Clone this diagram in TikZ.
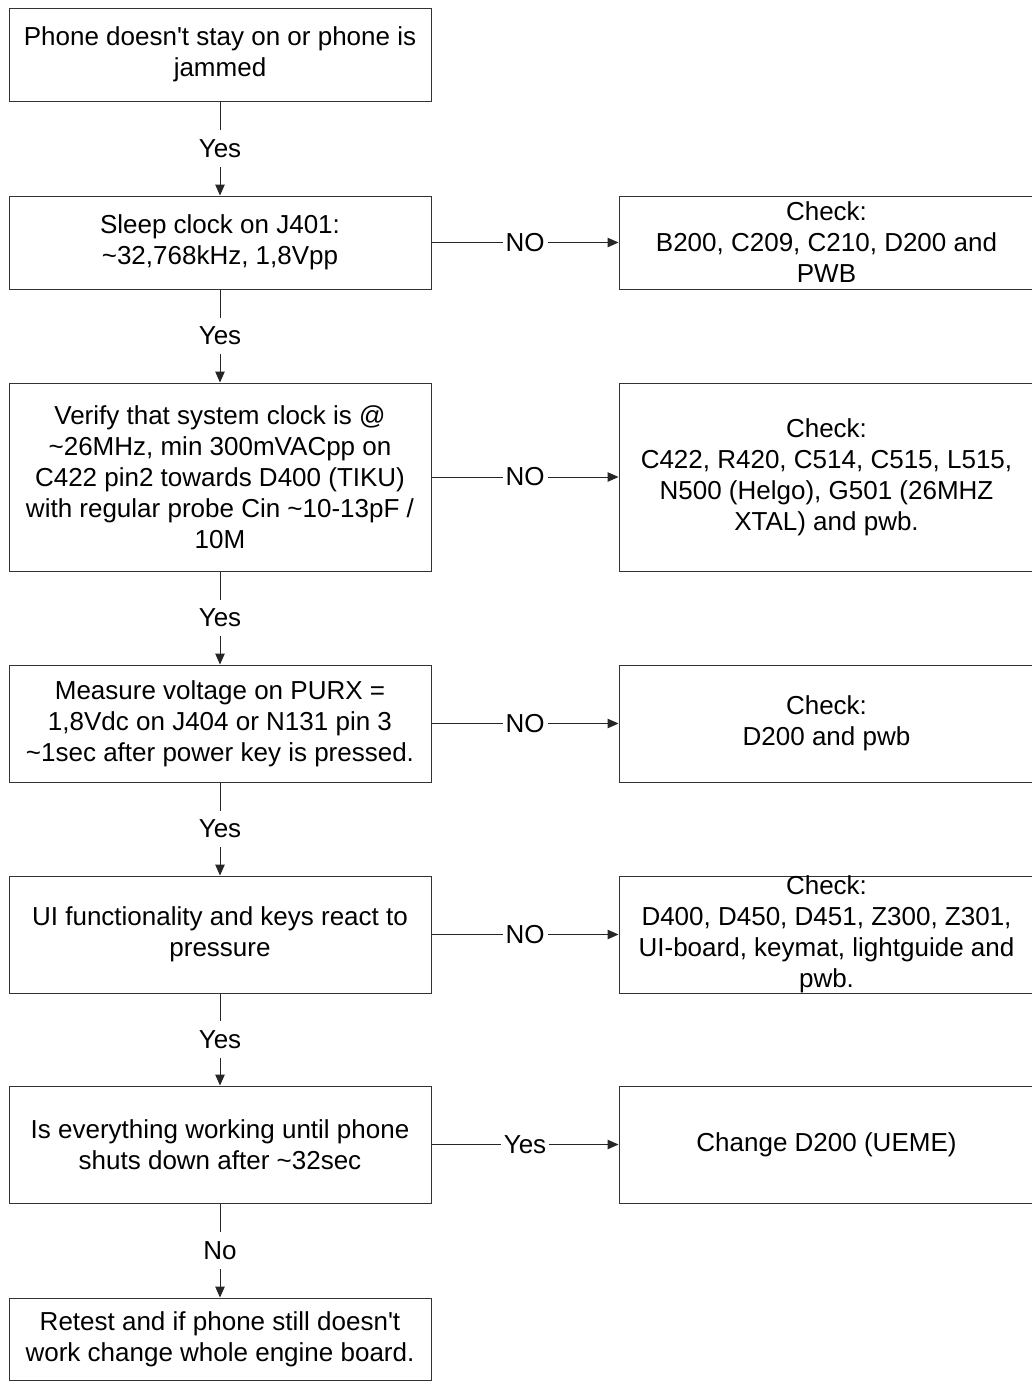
\documentclass[tikz,border=0pt]{standalone}
\usepackage{fontspec}
\setmainfont{Liberation Sans}
\usetikzlibrary{arrows.meta}
\newcommand{\apos}{\textquotesingle}
\begin{document}
\begin{tikzpicture}[x=1pt,y=-1pt,
  box/.style={draw=black!80, line width=1pt, rectangle, inner sep=0pt},
  lbox/.style={box, minimum width=422pt},
  rbox/.style={box, minimum width=415pt},
  txt/.style={align=center, inner sep=0pt, font=\fontsize{26}{31}\selectfont},
  flow/.style={draw=black!85, line width=1pt, -{Triangle[length=11pt,width=9.5pt]}},
  lbl/.style={fill=white, inner xsep=3pt, inner ysep=9pt, font=\fontsize{26}{31}\selectfont}
]
\useasboundingbox (0,0) rectangle (1032,1387);

% main column
\node[lbox, minimum height=93pt]  (b1) at (220,54.5) {};
\node[lbox, minimum height=93pt]  (b2) at (220,242.5) {};
\node[lbox, minimum height=188pt] (b3) at (220,477) {};
\node[lbox, minimum height=117pt] (b4) at (220,723.5) {};
\node[lbox, minimum height=117pt] (b5) at (220,934.5) {};
\node[lbox, minimum height=117pt] (b6) at (220,1144.5) {};
\node[lbox, minimum height=82pt]  (b7) at (220,1339) {};

\node[txt] at (b1) {Phone doesn\apos t stay on or phone is\\jammed};
\node[txt] at (b2) {Sleep clock on J401:\\\textasciitilde32,768kHz, 1,8Vpp};
\node[txt] at (b3) {Verify that system clock is @\\\textasciitilde26MHz, min 300mVACpp on\\C422 pin2 towards D400 (TIKU)\\with regular probe Cin \textasciitilde10-13pF /\\10M};
\node[txt] at (b4) {Measure voltage on PURX =\\1,8Vdc on J404 or N131 pin 3\\\textasciitilde1sec after power key is pressed.};
\node[txt] at (b5) {UI functionality and keys react to\\pressure};
\node[txt] at (b6) {Is everything working until phone\\shuts down after \textasciitilde32sec};
\node[txt] at (b7) {Retest and if phone still doesn\apos t\\work change whole engine board.};

% side column
\node[rbox, minimum height=93pt]  (r2) at (826.5,242.5) {};
\node[rbox, minimum height=188pt] (r3) at (826.5,477) {};
\node[rbox, minimum height=117pt] (r4) at (826.5,723.5) {};
\node[rbox, minimum height=117pt] (r5) at (826.5,934.5) {};
\node[rbox, minimum height=117pt] (r6) at (826.5,1144.5) {};

\node[txt] at (r2) {Check:\\B200, C209, C210, D200 and\\PWB};
\node[txt] at (r3) {Check:\\C422, R420, C514, C515, L515,\\N500 (Helgo), G501 (26MHZ\\XTAL) and pwb.};
\node[txt] at (r4) {Check:\\D200 and pwb};
\node[txt] at (r5) {Check:\\D400, D450, D451, Z300, Z301,\\UI-board, keymat, lightguide and\\pwb.};
\node[txt] at (r6) {Change D200 (UEME)};

% vertical flow
\draw[flow] (b1) -- node[lbl] {Yes} (b2);
\draw[flow] (b2) -- node[lbl] {Yes} (b3);
\draw[flow] (b3) -- node[lbl] {Yes} (b4);
\draw[flow] (b4) -- node[lbl] {Yes} (b5);
\draw[flow] (b5) -- node[lbl] {Yes} (b6);
\draw[flow] (b6) -- node[lbl] {No} (b7);

% side branches
\draw[flow] (b2) -- node[lbl] {NO} (r2);
\draw[flow] (b3) -- node[lbl] {NO} (r3);
\draw[flow] (b4) -- node[lbl] {NO} (r4);
\draw[flow] (b5) -- node[lbl] {NO} (r5);
\draw[flow] (b6) -- node[lbl] {Yes} (r6);
\end{tikzpicture}
\end{document}
